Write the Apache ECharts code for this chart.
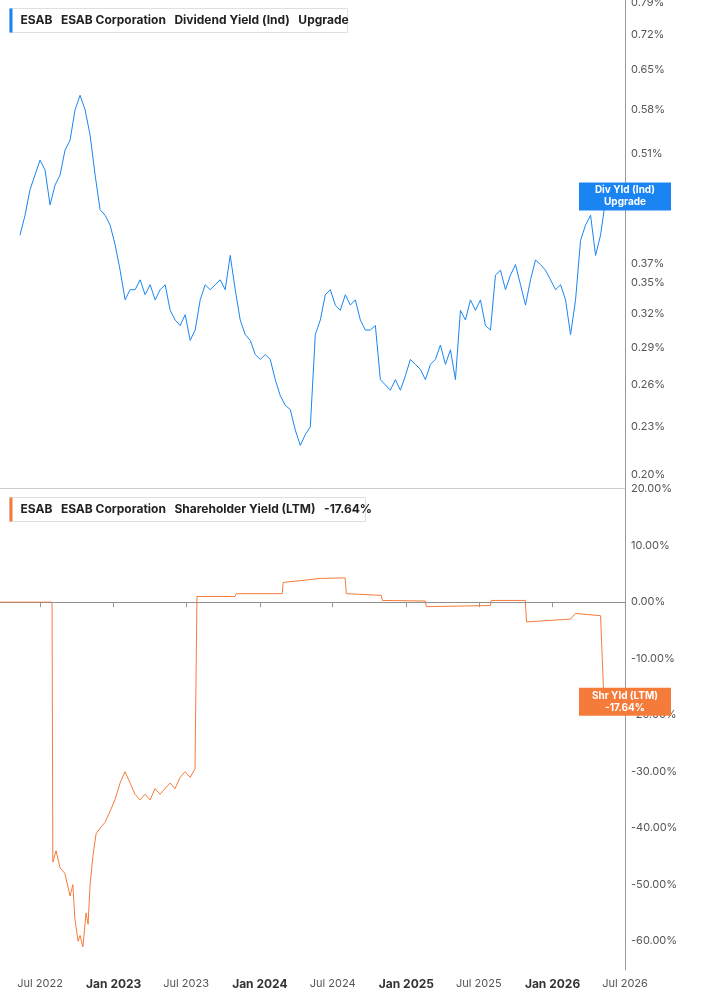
<!DOCTYPE html>
<html><head><meta charset="utf-8">
<script src="https://cdn.jsdelivr.net/npm/echarts@6/dist/echarts.min.js"></script>
<style>html,body{margin:0;padding:0;background:#fff}#c{width:717px;height:1005px}</style>
</head><body><div id="c"></div>
<script>
// Dividend yield (%), sampled every 12.5 days from 2022-05-12
const divStart = '2022-05-12';
const divStepDays = 12.5;
const divVals = [.402,.426,.459,.479,.500,.486,.439,.465,.479,.515,.530,.579,.604,.579,.538,.479,.433,.426,.414,.391,
.363,.333,.343,.343,.353,.338,.348,.333,.343,.348,.323,.314,.309,.319,.296,.305,.333,.348,.343,.348,
.353,.343,.379,.343,.314,.301,.296,.284,.280,.284,.280,.264,.252,.245,.242,.228,.218,.225,.23,.301,
.314,.338,.343,.328,.323,.338,.328,.333,.314,.305,.305,.309,.264,.260,.256,.264,.256,.267,.280,.276,
.272,.264,.276,.280,.292,.276,.288,.264,.323,.314,.333,.323,.333,.309,.305,.358,.363,.343,.358,.369,
.348,.328,.353,.374,.369,.363,.353,.343,.348,.333,.301,.333,.396,.414,.426,.379,.402,.446];
const divTicks = [0.20,0.23,0.26,0.29,0.32,0.35,0.37,0.44,0.51,0.58,0.65,0.72,0.79];

// Shareholder yield (%)
const shrDates = ['2022-03-23','2022-07-31','2022-08-02','2022-08-10','2022-08-20','2022-09-01','2022-09-14','2022-09-21','2022-09-26','2022-10-04','2022-10-09','2022-10-16','2022-10-24','2022-10-29','2022-11-03','2022-11-10','2022-11-18','2022-11-28','2022-12-10','2022-12-23','2023-01-04','2023-01-17','2023-01-29','2023-02-11','2023-02-23','2023-03-08','2023-03-20','2023-04-02','2023-04-14','2023-04-27','2023-05-09','2023-05-22','2023-06-03','2023-06-16','2023-06-28','2023-07-11','2023-07-23','2023-07-26','2023-07-28','2023-10-31','2023-11-03','2024-02-26','2024-02-28','2024-04-11','2024-05-31','2024-08-01','2024-08-04','2024-10-30','2024-11-02','2025-02-17','2025-02-20','2025-07-30','2025-08-01','2025-10-25','2025-10-28','2026-02-15','2026-02-27','2026-05-01','2026-05-08','2026-05-16'];
const shrVals = [0,0,-46,-44,-47,-48,-52,-50,-56,-60,-59,-61,-55,-57,-50,-45,-41,-40,-39,-37,-35,-32,-30,-32,-34,-35,-34,-35,-33,-34,-33,-32,-33,-31,-30,-31,-29.5,-29.5,1,1,1.5,1.5,3.5,3.8,4.2,4.3,1.5,1.2,0.3,0.2,-0.8,-0.6,0.3,0.3,-3.5,-3,-2,-2.4,-15,-17.64];
const shrTicks = [20,10,0,-10,-20,-30,-40,-50,-60];

const DAY = 86400000;
const t0 = new Date(divStart).getTime();
const divData = divVals.map((v,i)=>[t0 + i*divStepDays*DAY, v]);
const shrData = shrDates.map((d,i)=>[d, shrVals[i]]);
const xMin = '2022-03-23', xMax = '2026-07-01';
const blue = '#1a85f2', orange = '#f57b3b';
const lbl = {color:'#555', fontSize:11, fontFamily:'Inter'};
const hidden = {color:'rgba(0,0,0,0)', width:1};

function tickLines(ticks, fmt){
  return ticks.map(v=>({yAxis:v, lineStyle:hidden, label:{show:true, position:'end', distance:6, formatter:fmt(v), ...lbl}}));
}
const chart = echarts.init(document.getElementById('c'));
chart.setOption({
  animation:false,
  textStyle:{fontFamily:'Inter'},
  grid:[{left:0,right:92,top:0,height:488},{left:0,right:92,top:488,bottom:35}],
  xAxis:[
    {type:'time',gridIndex:0,min:xMin,max:xMax,axisLabel:{show:false},axisTick:{show:false},axisLine:{show:true,lineStyle:{color:'#ccc'}},splitLine:{show:false}},
    {type:'time',gridIndex:1,min:xMin,max:xMax,minInterval:180*DAY,maxInterval:184*DAY,
     axisLine:{lineStyle:{color:'#999'}},axisTick:{show:true,lineStyle:{color:'#999'}},splitLine:{show:false},
     axisLabel:{showMinLabel:false,showMaxLabel:true,fontFamily:'Inter',fontSize:11,color:'#555',
       formatter:function(v){const d=new Date(v);const y=d.getFullYear();return d.getMonth()===0?'{b|Jan '+y+'}':'Jul '+y;},
       rich:{b:{fontWeight:'bold',color:'#333',fontSize:12,fontFamily:'Inter'}}}}
  ],
  yAxis:[
    {type:'log',gridIndex:0,min:0.1926,max:0.797,position:'right',axisLabel:{show:false},axisTick:{show:false},splitLine:{show:false},axisLine:{show:true,lineStyle:{color:'#999'}}},
    {type:'value',gridIndex:1,min:-65.1,max:20.2,position:'right',axisLabel:{show:false},axisTick:{show:false},splitLine:{show:false},axisLine:{show:true,lineStyle:{color:'#999'}}}
  ],
  series:[
    {type:'line',xAxisIndex:0,yAxisIndex:0,data:divData,showSymbol:false,lineStyle:{color:blue,width:1},
     markLine:{silent:true,symbol:'none',
       data:tickLines(divTicks,v=>v.toFixed(2)+'%').concat([{yAxis:divVals[divVals.length-1],lineStyle:hidden,
         label:{show:true,position:'end',distance:0,formatter:'Div Yld (Ind)\nUpgrade',backgroundColor:blue,color:'#fff',fontWeight:'bold',fontSize:10,lineHeight:12,padding:[2,14,2,14],width:64,align:'center'}}])}},
    {type:'line',xAxisIndex:1,yAxisIndex:1,data:shrData,showSymbol:false,lineStyle:{color:orange,width:1},
     markLine:{silent:true,symbol:'none',
       data:tickLines(shrTicks,v=>v.toFixed(2)+'%').concat([
         {yAxis:0,lineStyle:{color:'#888',type:'dotted',width:1},label:{show:false}},
         {yAxis:-17.64,lineStyle:hidden,label:{show:true,position:'end',distance:0,formatter:'Shr Yld (LTM)\n-17.64%',backgroundColor:orange,color:'#fff',fontWeight:'bold',fontSize:10,lineHeight:12,padding:[2,14,2,14],width:64,align:'center'}}])}}
  ],
  graphic:[
    {type:'group',left:9,top:8,children:[
      {type:'rect',shape:{x:0,y:0,width:338,height:24},style:{fill:'#fff',stroke:'#e0e0e0'}},
      {type:'rect',shape:{x:0,y:0,width:3,height:24},style:{fill:blue}},
      {type:'text',x:11,y:6,style:{text:'ESAB   ESAB Corporation   Dividend Yield (Ind)   Upgrade',font:'bold 12px Inter',fill:'#222'}}
    ]},
    {type:'group',left:9,top:497,children:[
      {type:'rect',shape:{x:0,y:0,width:356,height:24},style:{fill:'#fff',stroke:'#e0e0e0'}},
      {type:'rect',shape:{x:0,y:0,width:3,height:24},style:{fill:orange}},
      {type:'text',x:11,y:6,style:{text:'ESAB   ESAB Corporation   Shareholder Yield (LTM)   -17.64%',font:'bold 12px Inter',fill:'#222'}}
    ]}
  ]
});
</script></body></html>
